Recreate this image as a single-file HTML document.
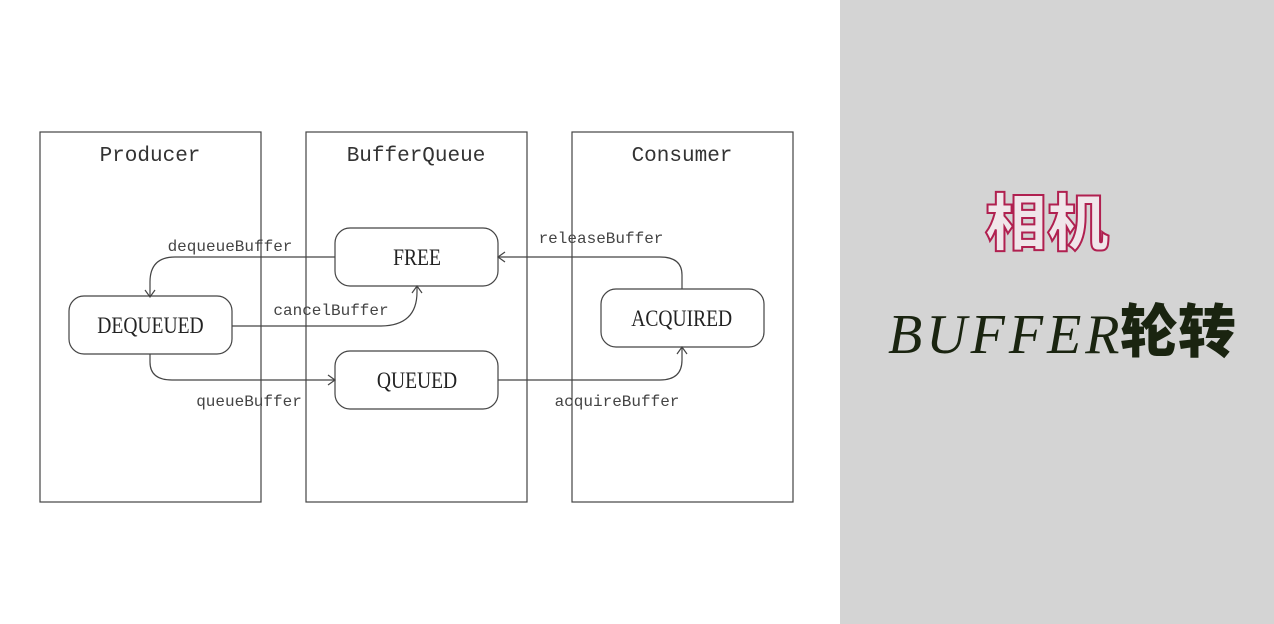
<!DOCTYPE html>
<html><head><meta charset="utf-8"><style>
html,body{margin:0;padding:0;width:1274px;height:624px;overflow:hidden;background:#fff}
</style></head><body>
<svg width="1274" height="624" xmlns="http://www.w3.org/2000/svg">
<rect x="0" y="0" width="840" height="624" fill="#fff"/>
<rect x="840" y="0" width="434" height="624" fill="#d4d4d4"/>
<g fill="none" stroke="#444" stroke-width="1.2">
<rect x="40" y="132" width="221" height="370"/>
<rect x="306" y="132" width="221" height="370"/>
<rect x="572" y="132" width="221" height="370"/>
<rect x="335" y="228" width="163" height="58" rx="15"/>
<rect x="69" y="296" width="163" height="58" rx="15"/>
<rect x="335" y="351" width="163" height="58" rx="15"/>
<rect x="601" y="289" width="163" height="58" rx="15"/>
<path d="M335 257 H175 Q150 257 150 282 V296"/>
<path d="M145 290 L150 297 L155 290"/>
<path d="M232 326 H380 Q417 326 417 292 V286"/>
<path d="M412 293 L417 286 L422 293"/>
<path d="M150 354 V362 Q150 380 172 380 H335"/>
<path d="M328 375 L335 380 L328 385"/>
<path d="M682 289 V275 Q682 257 660 257 H498"/>
<path d="M505 252 L498 257 L505 262"/>
<path d="M498 380 H660 Q682 380 682 360 V347"/>
<path d="M677 354 L682 347 L687 354"/>
</g>
<g font-family="Liberation Mono, monospace" fill="#333" font-size="21" text-anchor="middle">
<text x="150" y="161">Producer</text>
<text x="416" y="161">BufferQueue</text>
<text x="682" y="161">Consumer</text>
</g>
<g font-family="Liberation Serif, serif" fill="#222" font-size="23" text-anchor="middle" transform="scale(0.85,1)">
<text x="490.6" y="265">FREE</text>
<text x="177" y="333">DEQUEUED</text>
<text x="490.6" y="388">QUEUED</text>
<text x="802" y="326">ACQUIRED</text>
</g>
<g font-family="Liberation Mono, monospace" fill="#444" font-size="16" text-anchor="middle">
<text x="230" y="251">dequeueBuffer</text>
<text x="331" y="315">cancelBuffer</text>
<text x="249" y="406">queueBuffer</text>
<text x="601" y="243">releaseBuffer</text>
<text x="617" y="406">acquireBuffer</text>
</g>
<text x="985" y="245" font-family="Noto Sans CJK SC, sans-serif" font-weight="900" font-size="62" fill="#f0e6ea" stroke="#b02050" stroke-width="2">相机</text>
<text x="888" y="353" font-family="Liberation Serif, serif" font-style="italic" font-size="56" letter-spacing="4" fill="#1a2410">BUFFER</text>
<text x="1120" y="352" font-family="Noto Sans CJK SC, sans-serif" font-weight="900" font-size="58" fill="#1a2410">轮转</text>
</svg>
</body></html>
